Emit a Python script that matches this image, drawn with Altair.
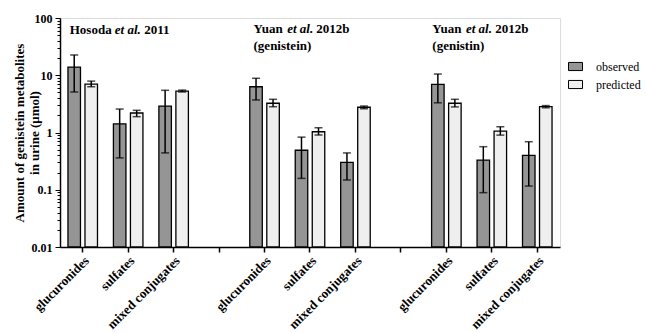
import altair as alt
import pandas as pd

# Study groups and metabolite classes
groups = ["Hosoda", "Yuan genistein", "Yuan genistin"]
metabolites = ["glucuronides", "sulfates", "mixed conjugates"]
series = ["observed", "predicted"]

# Urinary amounts (µmol) with error bar limits, group by group
observed = [13.9, 1.42, 2.9, 6.3, 0.49, 0.30, 6.95, 0.33, 0.40]
observed_lo = [5.1, 0.36, 0.44, 3.7, 0.158, 0.148, 3.3, 0.089, 0.116]
observed_hi = [22.6, 2.57, 5.46, 8.85, 0.83, 0.44, 10.5, 0.565, 0.69]
predicted = [7.0, 2.19, 5.3, 3.24, 1.03, 2.76, 3.24, 1.06, 2.82]
predicted_lo = [6.3, 1.89, 5.1, 2.82, 0.90, 2.60, 2.80, 0.90, 2.70]
predicted_hi = [7.9, 2.44, 5.5, 3.80, 1.21, 2.90, 3.80, 1.26, 2.95]

# Panel headings: (roman prefix, italic part, roman suffix, second line)
headings = [
    ("Hosoda", "et al.", "2011", ""),
    ("Yuan", "et al.", "2012b", "(genistein)"),
    ("Yuan", "et al.", "2012b", "(genistin)"),
]

FONT = "Liberation Serif"

# Approximate advance widths (em) of Times-metric bold glyphs, used to chain
# the roman and italic pieces of each heading
EM = {"H": 0.778, "o": 0.5, "s": 0.389, "d": 0.556, "a": 0.5, " ": 0.25,
      "Y": 0.722, "u": 0.556, "n": 0.556, "e": 0.444, "t": 0.278, "l": 0.278,
      ".": 0.25}


def text_width(txt, size):
    return sum(EM.get(c, 0.5) for c in txt) * size


# Category slots along x: three metabolites per group plus an empty slot between groups
slots = []
for gi, g in enumerate(groups):
    for m in metabolites:
        slots.append(f"{gi}|{m}")
    if gi < len(groups) - 1:
        slots.append(f"gap{gi}")

rows = []
for gi, g in enumerate(groups):
    for mi, m in enumerate(metabolites):
        k = gi * 3 + mi
        rows.append(dict(slot=f"{gi}|{m}", series="observed", value=observed[k],
                         lo=observed_lo[k], hi=observed_hi[k]))
        rows.append(dict(slot=f"{gi}|{m}", series="predicted", value=predicted[k],
                         lo=predicted_lo[k], hi=predicted_hi[k]))
df = pd.DataFrame(rows)

# Major and minor log ticks for the y axis
log_ticks = []
for e in range(-2, 2):
    for k in range(1, 10):
        log_ticks.append(round(k * 10 ** e, 6))
log_ticks.append(100)

is_decade = "abs(log(datum.value)/LN10 - round(log(datum.value)/LN10)) < 1e-6"

x_enc = alt.X(
    "slot:N",
    scale=alt.Scale(domain=slots, paddingInner=0, paddingOuter=0),
    axis=alt.Axis(
        title=None,
        labelExpr="indexof(datum.label, '|') >= 0 ? split(datum.label, '|')[1] : ''",
        labelAngle=-45,
        labelFont=FONT,
        labelFontSize=13,
        labelFontWeight="bold",
        labelColor="black",
        labelPadding=2,
        tickSize=5,
        tickColor="black",
        tickWidth=1.5,
        domainColor="black",
        domainWidth=1.5,
    ),
)
xoff_enc = alt.XOffset(
    "series:N",
    scale=alt.Scale(domain=series, paddingInner=0.265, paddingOuter=0.468),
)
y_scale = alt.Scale(type="log", domain=[0.01, 100], nice=False)

bars = alt.Chart(df).mark_bar(stroke="black", strokeWidth=1.3).encode(
    x=x_enc,
    xOffset=xoff_enc,
    y=alt.Y(
        "value:Q",
        scale=y_scale,
        axis=alt.Axis(
            title=["Amount of genistein metabolites", "in urine (\u03bcmol)"],
            titleFont=FONT,
            titleFontSize=13,
            titleFontWeight="bold",
            titleColor="black",
            titleLineHeight=15,
            titleX=-34,
            values=log_ticks,
            format="~g",
            labelExpr=f"({is_decade}) ? datum.label : ''",
            labelFont=FONT,
            labelFontSize=12,
            labelFontWeight="bold",
            labelColor="black",
            labelPadding=3,
            tickSize={"condition": {"test": is_decade, "value": 5}, "value": 3},
            tickColor="black",
            tickWidth=1,
            domainColor="black",
            domainWidth=1.5,
            grid=False,
        ),
    ),
    y2=alt.datum(0.01),
    fill=alt.Fill(
        "series:N",
        scale=alt.Scale(domain=series, range=["#959595", "#efefef"]),
        legend=alt.Legend(
            title=None,
            orient="none",
            legendX=508,
            legendY=41,
            symbolType="M-1,-0.58L1,-0.58L1,0.58L-1,0.58Z",
            symbolSize=196,
            symbolStrokeColor="black",
            symbolStrokeWidth=1,
            labelFont=FONT,
            labelFontSize=12,
            labelColor="black",
            labelOffset=13,
            rowPadding=4,
        ),
    ),
)

err_rule = alt.Chart(df).mark_rule(color="black", strokeWidth=1.5).encode(
    x=alt.X("slot:N", scale=alt.Scale(domain=slots)),
    xOffset=xoff_enc,
    y=alt.Y("lo:Q", scale=y_scale),
    y2="hi:Q",
)
cap_hi = alt.Chart(df).mark_tick(color="black", thickness=1.5, size=8).encode(
    x=alt.X("slot:N", scale=alt.Scale(domain=slots)),
    xOffset=xoff_enc,
    y=alt.Y("hi:Q", scale=y_scale),
)
cap_lo = alt.Chart(df).mark_tick(color="black", thickness=1.5, size=8).encode(
    x=alt.X("slot:N", scale=alt.Scale(domain=slots)),
    xOffset=xoff_enc,
    y=alt.Y("lo:Q", scale=y_scale),
)


def heading(gi, dx, top):
    prefix, ital, suffix, line2 = headings[gi]
    anchor = alt.datum(f"{gi}|{metabolites[0]}")
    fs = 13
    space = text_width(" ", fs)
    x_ital = dx + text_width(prefix, fs) + space
    x_suffix = x_ital + text_width(ital, fs) + space
    parts = [
        (prefix, "normal", dx),
        (ital, "italic", x_ital),
        (suffix, "normal", x_suffix),
    ]
    layers = []
    for txt, style, off in parts:
        layers.append(
            alt.Chart().mark_text(
                text=txt, font=FONT, fontSize=fs, fontWeight="bold", fontStyle=style,
                align="left", baseline="alphabetic", dx=round(off, 1), color="black",
            ).encode(x=anchor, y=alt.value(top))
        )
    if line2:
        layers.append(
            alt.Chart().mark_text(
                text=line2, font=FONT, fontSize=fs, fontWeight="bold",
                align="left", baseline="alphabetic", dx=dx, color="black",
            ).encode(x=anchor, y=alt.value(top + 16.5))
        )
    return layers


head_layers = heading(0, -13, 16) + heading(1, -11, 15) + heading(2, -14, 15)

chart = alt.layer(bars, err_rule, cap_hi, cap_lo, *head_layers).properties(
    width=500,
    height=229,
    autosize=alt.AutoSizeParams(type="none"),
    padding={"left": 60, "top": 18, "right": 86, "bottom": 86},
).configure_view(stroke=None).configure(background="white")

chart.save("out.html", embed_options={"renderer": "svg", "actions": False})
